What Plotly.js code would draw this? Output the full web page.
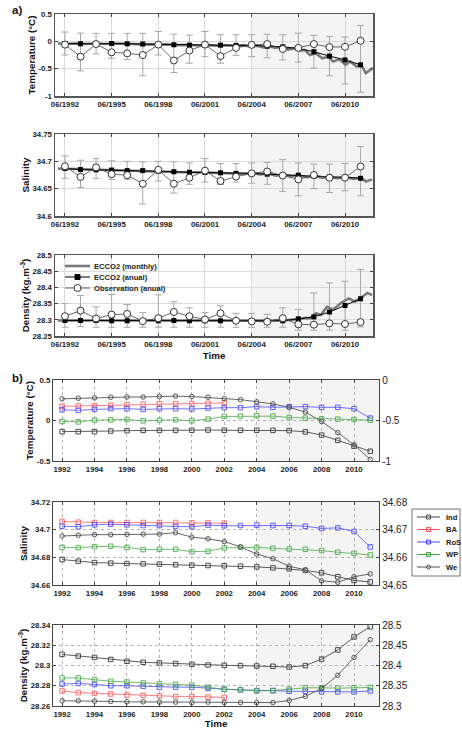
<!DOCTYPE html>
<html><head><meta charset="utf-8">
<script src="https://cdn.plot.ly/plotly-3.0.1.min.js"></script>
<style>html,body{margin:0;padding:0;background:#fff}#chart{width:462px;height:729px}</style>
</head><body><div id="chart"></div>
<script>
// ---------- DATA ----------
const years = [1992,1993,1994,1995,1996,1997,1998,1999,2000,2001,2002,2003,2004,2005,2006,2007,2008,2009,2010,2011];
const yearsBA = [1992,1993,1994,1995,1996,1997,1998,1999,2000,2001,2002];

// panel a: annual values (June of each year)
const aTempEcco = [-0.04,-0.045,-0.045,-0.04,-0.045,-0.05,-0.057,-0.063,-0.07,-0.07,-0.07,-0.075,-0.075,-0.09,-0.10,-0.13,-0.19,-0.27,-0.34,-0.43];
const aTempObs  = [-0.06,-0.28,-0.05,-0.20,-0.22,-0.25,-0.06,-0.35,-0.17,-0.06,-0.27,-0.12,-0.065,-0.05,-0.14,-0.12,-0.05,-0.105,-0.10,0.01];
const aTempBarTop = [0.17,0.15,0.145,0.145,0.145,0.145,0.18,0.13,0.115,0.18,0.12,0.12,0.12,0.13,0.12,0.15,0.11,0.09,0.08,0.29];
const aTempBarBot = [-0.25,-0.54,-0.23,-0.31,-0.33,-0.63,-0.25,-0.57,-0.40,-0.28,-0.40,-0.26,-0.28,-0.30,-0.34,-0.38,-0.49,-0.63,-0.78,-0.93];
const mTempX = [1992.0,1992.6,1993.2,1993.8,1994.4,1995.0,1995.6,1996.2,1996.8,1997.4,1998.0,1998.6,1999.2,1999.8,2000.4,2001.0,2001.6,2002.2,2002.8,2003.4,2004.0,2004.4,2004.8,2005.2,2005.6,2006.0,2006.4,2006.8,2007.2,2007.6,2007.9,2008.2,2008.6,2009.0,2009.4,2009.7,2010.1,2010.5,2010.8,2011.2,2011.5,2011.8,2012.25];
const mTempY = [-0.04,-0.05,-0.04,-0.05,-0.04,-0.05,-0.04,-0.05,-0.05,-0.055,-0.055,-0.065,-0.06,-0.07,-0.065,-0.075,-0.07,-0.08,-0.07,-0.08,-0.07,-0.10,-0.08,-0.11,-0.09,-0.12,-0.10,-0.15,-0.13,-0.17,-0.16,-0.25,-0.22,-0.31,-0.28,-0.37,-0.33,-0.43,-0.37,-0.46,-0.43,-0.58,-0.49];

const aSalEcco = [34.687,34.685,34.6845,34.684,34.683,34.683,34.682,34.681,34.680,34.6796,34.679,34.678,34.678,34.6765,34.675,34.6747,34.673,34.6716,34.671,34.669];
const aSalObs  = [34.691,34.6716,34.689,34.6765,34.6747,34.659,34.6845,34.659,34.670,34.683,34.664,34.672,34.678,34.6814,34.674,34.667,34.675,34.670,34.670,34.6906];
const aSalBarTop = [34.710,34.702,34.705,34.701,34.700,34.699,34.700,34.699,34.697,34.705,34.696,34.696,34.697,34.698,34.703,34.697,34.695,34.695,34.696,34.727];
const aSalBarBot = [34.669,34.652,34.669,34.667,34.667,34.622,34.664,34.642,34.658,34.662,34.6575,34.662,34.660,34.658,34.645,34.637,34.650,34.643,34.646,34.637];
const mSalX = [1992.0,1993.0,1994.0,1995.0,1996.0,1997.0,1998.0,1999.0,2000.0,2001.0,2002.0,2003.0,2004.0,2004.5,2005.0,2005.5,2006.0,2006.5,2007.0,2007.5,2008.0,2008.5,2009.0,2009.5,2010.0,2010.5,2011.0,2011.5,2011.8,2012.2];
const mSalY = [34.687,34.686,34.685,34.684,34.683,34.683,34.682,34.681,34.680,34.680,34.679,34.678,34.677,34.679,34.676,34.678,34.674,34.676,34.673,34.674,34.671,34.673,34.670,34.671,34.669,34.671,34.668,34.670,34.663,34.667];

const aDenEcco = [28.298,28.298,28.298,28.297,28.297,28.297,28.297,28.298,28.297,28.297,28.297,28.296,28.296,28.296,28.297,28.303,28.309,28.324,28.344,28.365];
const aDenObs  = [28.311,28.328,28.304,28.316,28.318,28.296,28.305,28.324,28.311,28.301,28.320,28.297,28.295,28.294,28.305,28.286,28.285,28.289,28.287,28.293];
const aDenBarTop = [28.350,28.375,28.340,28.378,28.347,28.322,28.377,28.356,28.337,28.322,28.343,28.320,28.320,28.317,28.337,28.332,28.383,28.414,28.419,28.455];
const aDenBarBot = [28.277,28.279,28.277,28.277,28.277,28.277,28.277,28.277,28.277,28.277,28.277,28.277,28.277,28.277,28.277,28.268,28.268,28.268,28.268,28.278];
const mDenX = [1992.0,1994.0,1996.0,1998.0,2000.0,2002.0,2004.0,2005.5,2006.5,2007.0,2007.5,2007.9,2008.2,2008.6,2008.9,2009.3,2009.7,2010.2,2010.7,2011.1,2011.5,2011.9,2012.2];
const mDenY = [28.298,28.298,28.297,28.297,28.297,28.297,28.296,28.297,28.298,28.300,28.302,28.306,28.304,28.320,28.315,28.340,28.332,28.352,28.366,28.356,28.368,28.383,28.376];

// panel b
const bTempInd = [-0.1375,-0.1375,-0.1375,-0.13,-0.125,-0.122,-0.122,-0.122,-0.12,-0.118,-0.12,-0.12,-0.12,-0.122,-0.125,-0.14,-0.18,-0.245,-0.317,-0.38];
const bTempBA  = [0.175,0.179,0.183,0.188,0.196,0.20,0.204,0.208,0.208,0.212,0.217];
const bTempRoS = [0.133,0.125,0.1375,0.146,0.146,0.1375,0.146,0.146,0.142,0.154,0.158,0.158,0.171,0.163,0.171,0.171,0.1625,0.1625,0.146,0.029];
const bTempWP  = [-0.0125,-0.017,0.004,0.008,0.0125,-0.004,0.004,0.008,-0.004,0.017,0.05,0.054,0.058,0.054,0.0375,0.029,0.021,0.017,0.0125,0.004];
const bTempWe  = [-0.233,-0.225,-0.221,-0.2125,-0.21,-0.21,-0.204,-0.20,-0.204,-0.2125,-0.23,-0.2425,-0.27,-0.295,-0.3375,-0.396,-0.5125,-0.65,-0.80,-0.98];

const bSalInd = [34.6784,34.6772,34.6762,34.6758,34.6755,34.6753,34.6751,34.6746,34.6743,34.6741,34.6739,34.6736,34.6731,34.6724,34.6717,34.6705,34.6688,34.666,34.6633,34.6622];
const bSalBA  = [34.7059,34.7054,34.7052,34.7052,34.7052,34.7052,34.7052,34.7052,34.7049,34.7049,34.7047];
const bSalRoS = [34.7025,34.7021,34.7035,34.704,34.7035,34.703,34.703,34.7023,34.7021,34.7033,34.7028,34.703,34.7033,34.703,34.703,34.7025,34.7009,34.7013,34.6987,34.6875];
const bSalWP  = [34.6872,34.687,34.6877,34.688,34.6872,34.6856,34.6858,34.6858,34.6841,34.6844,34.6868,34.6872,34.6872,34.6865,34.686,34.6858,34.6849,34.6837,34.6829,34.6817];
const bSalWe  = [34.6677,34.668,34.6682,34.6682,34.6683,34.6684,34.6684,34.6689,34.6673,34.6667,34.6657,34.6638,34.6612,34.6595,34.6568,34.6555,34.6515,34.651,34.653,34.654];

const bDenInd = [28.311,28.3093,28.308,28.306,28.3042,28.3032,28.3026,28.3019,28.3012,28.3005,28.3002,28.2999,28.2995,28.2992,28.2985,28.2999,28.3063,28.3154,28.3282,28.3383];
const bDenBA  = [28.2749,28.2732,28.2725,28.2719,28.2709,28.2705,28.2699,28.2695,28.2695,28.2688,28.2685];
const bDenRoS = [28.2817,28.2823,28.2813,28.28,28.28,28.2796,28.2786,28.2786,28.2786,28.2773,28.2766,28.2759,28.2752,28.2752,28.2746,28.2746,28.2739,28.2739,28.2739,28.2749];
const bDenWP  = [28.2877,28.2877,28.286,28.2844,28.2837,28.2827,28.282,28.2813,28.2806,28.2786,28.2766,28.2759,28.2749,28.2752,28.2766,28.278,28.278,28.2776,28.278,28.2783];
const bDenWe  = [28.3128,28.3128,28.312,28.3113,28.3103,28.3103,28.3095,28.3095,28.3085,28.3095,28.3085,28.3085,28.3085,28.3085,28.3138,28.3238,28.3433,28.376,28.42,28.4638];

// tick labels
const aXTickYears = [1992,1995,1998,2001,2004,2007,2010];
const aXTickText = ['06/1992','06/1995','06/1998','06/2001','06/2004','06/2007','06/2010'];
const bXTickVals = [1992,1994,1996,1998,2000,2002,2004,2006,2008,2010];
const bXTickText = ['1992','1994','1996','1998','2000','2002','2004','2006','2008','2010'];
const aTempTicks = [-1,-0.5,0,0.5], aTempTickText = ['-1','-0.5','0','0.5'];
const aSalTicks = [34.6,34.65,34.7,34.75], aSalTickText = ['34.6','34.65','34.7','34.75'];
const aDenTicks = [28.25,28.3,28.35,28.4,28.45,28.5], aDenTickText = ['28.25','28.3','28.35','28.4','28.45','28.5'];
const bTempTicksL = [-0.5,0,0.5], bTempTickTextL = ['-0.5','0','0.5'];
const bTempTicksR = [-1,-0.5,0], bTempTickTextR = ['-1','-0.5','0'];
const bSalTicksL = [34.66,34.68,34.7,34.72], bSalTickTextL = ['34.66','34.68','34.7','34.72'];
const bSalTicksR = [34.65,34.66,34.67,34.68], bSalTickTextR = ['34.65','34.66','34.67','34.68'];
const bDenTicksL = [28.26,28.28,28.3,28.32,28.34], bDenTickTextL = ['28.26','28.28','28.3','28.32','28.34'];
const bDenTicksR = [28.3,28.35,28.4,28.45,28.5], bDenTickTextR = ['28.3','28.35','28.4','28.45','28.5'];

// ---------- LAYOUT HELPERS ----------
const W = 462, H = 729;
const px = x => x / W, py = y => 1 - y / H;
const dom = (top, bot) => [1 - bot / H, 1 - top / H];
const JUNE = 0.46;
const xa = years.map(y => y + JUNE);
const aRange = [1991.82, 2012.26];
const bRange = [1991.44, 2011.54];
const FONT = 'Liberation Sans, Arial, sans-serif';
const tickBold = {family: FONT, size: 7.8, color: '#222', weight: 'bold'};
const legFont = {family: FONT, size: 7.6, color: '#222', weight: 'bold'};
const titleFont = {family: FONT, size: 9.8, color: '#111', weight: 'bold'};
const rightTick = {family: FONT, size: 10, color: '#222'};

const traces = [];
function aPanel(n, ecco, obs, top, bot, mx, my) {
  const xr = n === 1 ? 'x' : 'x' + n, yr = n === 1 ? 'y' : 'y' + n;
  traces.push({x: xa, y: ecco, xaxis: xr, yaxis: yr, mode: 'markers', showlegend: false, hoverinfo: 'skip',
    marker: {color: 'rgba(0,0,0,0)', size: 1},
    error_y: {type: 'data', symmetric: false, array: top.map((t, i) => t - ecco[i]), arrayminus: ecco.map((c, i) => c - bot[i]),
      color: '#a8a8a8', thickness: 1, width: 3.5}});
  traces.push({x: mx, y: my, xaxis: xr, yaxis: yr, mode: 'lines', name: 'ECCO2 (monthly)', showlegend: false,
    line: {color: '#7a7a7a', width: 2.6}});
  traces.push({x: xa, y: ecco, xaxis: xr, yaxis: yr, mode: 'lines+markers', name: 'ECCO2 (anual)', showlegend: false,
    line: {color: '#000', width: 1}, marker: {symbol: 'square', size: 5, color: '#000'}});
  traces.push({x: xa, y: obs, xaxis: xr, yaxis: yr, mode: 'lines+markers', name: 'Observation (anual)', showlegend: false,
    line: {color: '#444', width: 0.8}, marker: {symbol: 'circle', size: 7, color: '#fff', line: {color: '#333', width: 1}}});
}
aPanel(1, aTempEcco, aTempObs, aTempBarTop, aTempBarBot, mTempX, mTempY);
aPanel(2, aSalEcco, aSalObs, aSalBarTop, aSalBarBot, mSalX, mSalY);
aPanel(3, aDenEcco, aDenObs, aDenBarTop, aDenBarBot, mDenX, mDenY);

const regions = [
  {name: 'Ind', color: '#4a4a4a', sym: 'square-open', shape: 'rect'},
  {name: 'BA', color: '#ff5555', sym: 'square-open', shape: 'rect'},
  {name: 'RoS', color: '#4444ff', sym: 'square-open', shape: 'rect'},
  {name: 'WP', color: '#44a844', sym: 'square-open', shape: 'rect'},
  {name: 'We', color: '#555555', sym: 'circle-open', shape: 'circle'}
];
function bPanel(n, right, sets) {
  sets.forEach((vals, k) => {
    const r = regions[k];
    const xs = vals.length === yearsBA.length ? yearsBA : years;
    traces.push({x: xs, y: vals, xaxis: 'x' + n, yaxis: k === 4 ? 'y' + right : 'y' + n,
      mode: 'lines+markers', name: r.name, showlegend: false,
      line: {color: r.color, width: 0.9}, opacity: k === 0 || k === 4 ? 1 : 0.85,
      marker: {symbol: r.sym, size: 4.5, color: r.color, line: {width: 1}}});
  });
}
bPanel(4, 7, [bTempInd, bTempBA, bTempRoS, bTempWP, bTempWe]);
bPanel(5, 8, [bSalInd, bSalBA, bSalRoS, bSalWP, bSalWe]);
bPanel(6, 9, [bDenInd, bDenBA, bDenRoS, bDenWP, bDenWe]);

// ---------- AXES ----------
const aDomX = [px(55), px(373)], bDomX = [px(53), px(379)];
function aX(anchor, title) {
  const ax = {domain: aDomX, anchor: anchor, range: aRange, tickvals: aXTickYears.map(y => y + JUNE), ticktext: aXTickText,
    ticks: 'inside', ticklen: 3, tickcolor: '#444', showline: true, mirror: 'ticks', linecolor: '#555', linewidth: 1.5,
    showgrid: true, gridcolor: '#dadada', gridwidth: 1, zeroline: false, tickfont: tickBold};
  if (title) ax.title = {text: title, font: titleFont, standoff: 4};
  return ax;
}
function aY(anchor, dm, rng, tv, tt, title) {
  return {domain: dm, anchor: anchor, range: rng, tickvals: tv, ticktext: tt,
    ticks: 'inside', ticklen: 3, tickcolor: '#444', showline: true, mirror: 'ticks', linecolor: '#555', linewidth: 1.5,
    showgrid: true, gridcolor: '#dadada', zeroline: false, tickfont: tickBold,
    title: {text: title, font: titleFont, standoff: 1}};
}
function bX(anchor, title) {
  const ax = {domain: bDomX, anchor: anchor, range: bRange, tickvals: bXTickVals, ticktext: bXTickText,
    ticks: 'inside', ticklen: 3, tickcolor: '#444', showline: true, mirror: 'ticks', linecolor: '#444', linewidth: 1.2,
    showgrid: true, gridcolor: '#b5b5b5', griddash: 'dot', zeroline: false, tickfont: tickBold};
  if (title) ax.title = {text: title, font: titleFont, standoff: 4};
  return ax;
}
function bYL(anchor, dm, rng, tv, tt, title) {
  return {domain: dm, anchor: anchor, range: rng, tickvals: tv, ticktext: tt,
    ticks: 'inside', ticklen: 3, tickcolor: '#444', showline: true, mirror: false, linecolor: '#444', linewidth: 1.2,
    showgrid: true, gridcolor: '#b5b5b5', griddash: 'dot', zeroline: false, tickfont: tickBold,
    title: {text: title, font: titleFont, standoff: 1}};
}
function bYR(anchor, over, rng, tv, tt) {
  return {overlaying: over, side: 'right', anchor: anchor, range: rng, tickvals: tv, ticktext: tt,
    ticks: 'inside', ticklen: 3, tickcolor: '#444', showline: true, linecolor: '#444', linewidth: 1.2,
    showgrid: false, zeroline: false, tickfont: rightTick};
}

const shade = (xref, yref, x0, x1) => ({type: 'rect', xref: xref, yref: yref + ' domain', x0: x0, x1: x1, y0: 0, y1: 1,
  fillcolor: '#f4f4f4', line: {width: 0}, layer: 'below'});
const SHADE_A = 2004 + JUNE, SHADE_B = 2004;

const shapes = [
  shade('x', 'y', SHADE_A, aRange[1]), shade('x2', 'y2', SHADE_A, aRange[1]), shade('x3', 'y3', SHADE_A, aRange[1]),
  shade('x4', 'y4', SHADE_B, bRange[1]), shade('x5', 'y5', SHADE_B, bRange[1]), shade('x6', 'y6', SHADE_B, bRange[1])
];
const annotations = [
  {text: 'a)', xref: 'paper', yref: 'paper', x: px(10), y: py(10), xanchor: 'left', yanchor: 'middle', showarrow: false,
    font: {family: FONT, size: 11.5, color: '#111', weight: 'bold'}},
  {text: 'b)', xref: 'paper', yref: 'paper', x: px(10), y: py(378), xanchor: 'left', yanchor: 'middle', showarrow: false,
    font: {family: FONT, size: 11.5, color: '#111', weight: 'bold'}}
];
function legendLine(x0, x1, y, color, width) {
  shapes.push({type: 'line', xref: 'paper', yref: 'paper', x0: px(x0), x1: px(x1), y0: py(y), y1: py(y), line: {color: color, width: width}});
}
function legendMark(kind, x, y, r, fill, color) {
  shapes.push({type: kind, xref: 'paper', yref: 'paper', xsizemode: 'pixel', ysizemode: 'pixel', xanchor: px(x), yanchor: py(y),
    x0: -r, x1: r, y0: -r, y1: r, fillcolor: fill, line: {color: color, width: 1}});
}
function legendText(t, x, y) {
  annotations.push({text: t, xref: 'paper', yref: 'paper', x: px(x), y: py(y), xanchor: 'left', yanchor: 'middle',
    showarrow: false, font: legFont});
}
// legend for panel a (compact, inside the density plot)
const aLegNames = ['ECCO2 (monthly)', 'ECCO2 (anual)', 'Observation (anual)'];
const aLegRows = [266, 277, 288];
legendLine(65, 90, aLegRows[0], '#7a7a7a', 2.6);
legendLine(65, 90, aLegRows[1], '#000', 1); legendMark('rect', 77.5, aLegRows[1], 2.5, '#000', '#000');
legendLine(65, 90, aLegRows[2], '#444', 0.8); legendMark('circle', 77.5, aLegRows[2], 3.5, '#fff', '#333');
aLegNames.forEach((t, i) => legendText(t, 92, aLegRows[i]));
// legend for panel b (boxed, right margin)
shapes.push({type: 'rect', xref: 'paper', yref: 'paper', x0: px(412), x1: px(460), y0: py(576), y1: py(509),
  fillcolor: '#fff', line: {color: '#777', width: 1}});
const bLegRows = [517, 529.5, 542, 554.5, 567];
regions.forEach((r, i) => {
  legendLine(417, 440, bLegRows[i], r.color, 1);
  legendMark(r.shape, 428.5, bLegRows[i], 2, 'rgba(0,0,0,0)', r.color);
  legendText(r.name, 444, bLegRows[i]);
});

const layout = {
  width: W, height: H, margin: {l: 0, r: 0, t: 0, b: 0}, paper_bgcolor: '#fff', plot_bgcolor: 'rgba(0,0,0,0)',
  font: {family: FONT}, showlegend: false,
  xaxis: aX('y'), yaxis: aY('x', dom(14, 96), [-1, 0.5], aTempTicks, aTempTickText, 'Temperature (°C)'),
  xaxis2: aX('y2'), yaxis2: aY('x2', dom(134, 216), [34.6, 34.75], aSalTicks, aSalTickText, 'Salinity'),
  xaxis3: aX('y3', 'Time'), yaxis3: aY('x3', dom(255, 336), [28.25, 28.5], aDenTicks, aDenTickText, 'Density (kg.m<sup>-3</sup>)'),
  xaxis4: bX('y4'), yaxis4: bYL('x4', dom(380, 461), [-0.5, 0.5], bTempTicksL, bTempTickTextL, 'Temperature (°C)'),
  xaxis5: bX('y5'), yaxis5: bYL('x5', dom(502, 585), [34.66, 34.72], bSalTicksL, bSalTickTextL, 'Salinity'),
  xaxis6: bX('y6', 'Time'), yaxis6: bYL('x6', dom(625, 706), [28.26, 28.34], bDenTicksL, bDenTickTextL, 'Density (kg.m<sup>-3</sup>)'),
  yaxis7: bYR('x4', 'y4', [-1, 0], bTempTicksR, bTempTickTextR),
  yaxis8: bYR('x5', 'y5', [34.65, 34.68], bSalTicksR, bSalTickTextR),
  yaxis9: bYR('x6', 'y6', [28.3, 28.5], bDenTicksR, bDenTickTextR),
  shapes: shapes, annotations: annotations
};
Plotly.newPlot('chart', traces, layout, {staticPlot: true, displayModeBar: false});
</script>
</body></html>
